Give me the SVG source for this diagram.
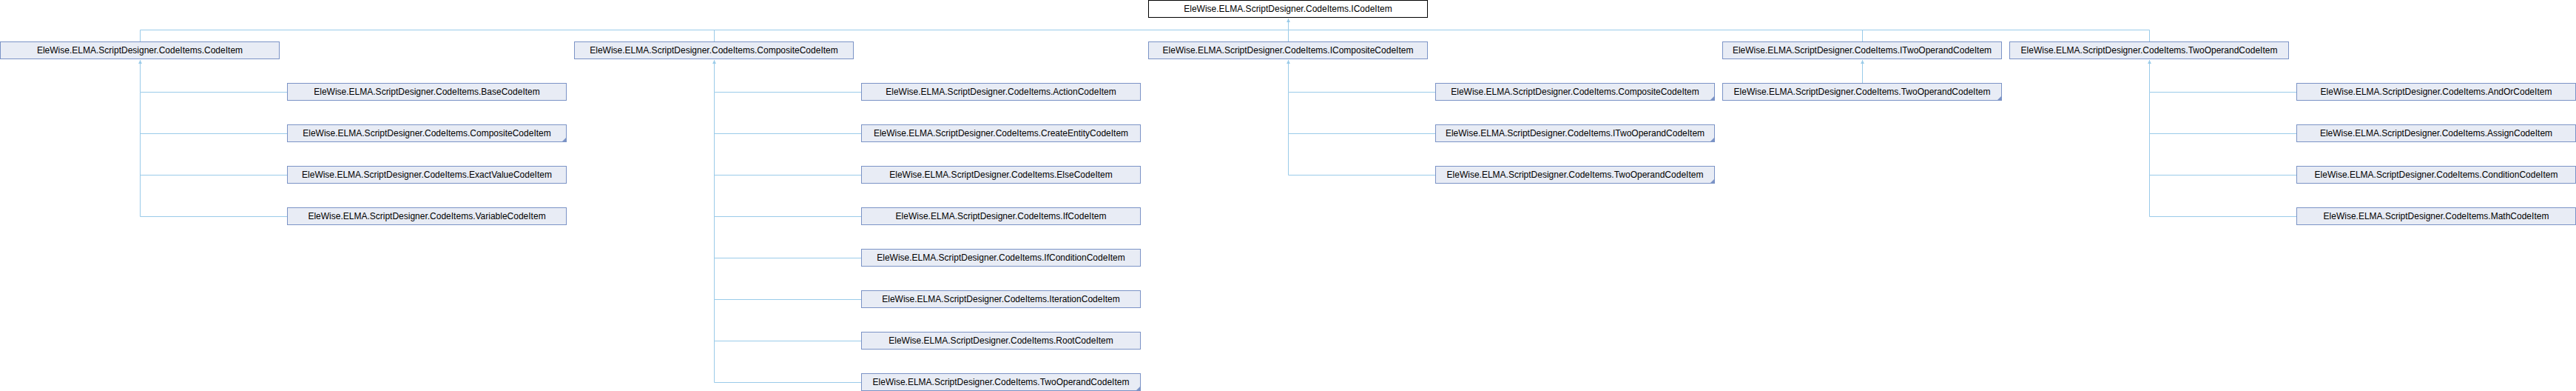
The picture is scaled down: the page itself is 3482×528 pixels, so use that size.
<svg xmlns="http://www.w3.org/2000/svg" width="3482" height="528" viewBox="0 0 3482 528">
<style>
.n rect{fill:#E8ECF5;stroke:#7B93C6;stroke-width:1}
.r rect{fill:#FFFFFF;stroke:#000000;stroke-width:1}
text{font-family:"Liberation Sans",Arial,sans-serif;font-size:12px;fill:#000;text-anchor:middle}
.e path{fill:none;stroke:#9ACBE9;stroke-width:1}
.c{fill:#7B93C6}
</style>
<defs>
<marker id="arr" markerUnits="userSpaceOnUse" markerWidth="6" markerHeight="6" viewBox="0 0 6 6" refX="5" refY="3" orient="auto">
<path d="M0,0.6 L5,3 L0,5.4 z" fill="#9ACBE9"/>
</marker>
</defs>
<rect width="3482" height="528" fill="#FFFFFF"/>
<g class="e" id="connectors">
<path d="M189.5,56.5 V40.5 H1741.5 V25" marker-end="url(#arr)"/>
<path d="M965.5,56.5 V40.5"/>
<path d="M1741.5,56.5 V40.5"/>
<path d="M2517.5,56.5 V40.5"/>
<path d="M2905.5,56.5 V40.5 H1741.5"/>
<path d="M388.5,124.5 H189.5 V81" marker-end="url(#arr)"/>
<path d="M388.5,180.5 H189.5"/>
<path d="M388.5,236.5 H189.5"/>
<path d="M388.5,292.5 H189.5 V124.5"/>
<path d="M1164.5,124.5 H965.5 V81" marker-end="url(#arr)"/>
<path d="M1164.5,180.5 H965.5"/>
<path d="M1164.5,236.5 H965.5"/>
<path d="M1164.5,292.5 H965.5"/>
<path d="M1164.5,348.5 H965.5"/>
<path d="M1164.5,404.5 H965.5"/>
<path d="M1164.5,460.5 H965.5"/>
<path d="M1164.5,516.5 H965.5 V124.5"/>
<path d="M1940.5,124.5 H1741.5 V81" marker-end="url(#arr)"/>
<path d="M1940.5,180.5 H1741.5"/>
<path d="M1940.5,236.5 H1741.5 V124.5"/>
<path d="M2517.5,112.5 V81" marker-end="url(#arr)"/>
<path d="M3104.5,124.5 H2905.5 V81" marker-end="url(#arr)"/>
<path d="M3104.5,180.5 H2905.5"/>
<path d="M3104.5,236.5 H2905.5"/>
<path d="M3104.5,292.5 H2905.5 V124.5"/>
</g>
<g id="ICodeItem" class="r"><rect x="1552.5" y="0.5" width="377" height="23"/><text x="1741" y="16">EleWise.ELMA.ScriptDesigner.CodeItems.ICodeItem</text></g>
<g id="CodeItem" class="n"><rect x="0.5" y="56.5" width="377" height="23"/><text x="189" y="72">EleWise.ELMA.ScriptDesigner.CodeItems.CodeItem</text></g>
<g id="CompositeCodeItem" class="n"><rect x="776.5" y="56.5" width="377" height="23"/><text x="965" y="72">EleWise.ELMA.ScriptDesigner.CodeItems.CompositeCodeItem</text></g>
<g id="ICompositeCodeItem" class="n"><rect x="1552.5" y="56.5" width="377" height="23"/><text x="1741" y="72">EleWise.ELMA.ScriptDesigner.CodeItems.ICompositeCodeItem</text></g>
<g id="ITwoOperandCodeItem" class="n"><rect x="2328.5" y="56.5" width="377" height="23"/><text x="2517" y="72">EleWise.ELMA.ScriptDesigner.CodeItems.ITwoOperandCodeItem</text></g>
<g id="TwoOperandCodeItem" class="n"><rect x="2716.5" y="56.5" width="377" height="23"/><text x="2905" y="72">EleWise.ELMA.ScriptDesigner.CodeItems.TwoOperandCodeItem</text></g>
<g id="BaseCodeItem" class="n"><rect x="388.5" y="112.5" width="377" height="23"/><text x="577" y="128">EleWise.ELMA.ScriptDesigner.CodeItems.BaseCodeItem</text></g>
<g id="CompositeCodeItem_2" class="n"><rect x="388.5" y="168.5" width="377" height="23"/><text x="577" y="184">EleWise.ELMA.ScriptDesigner.CodeItems.CompositeCodeItem</text><path class="c" d="M766,185 V192 H759 z"/></g>
<g id="ExactValueCodeItem" class="n"><rect x="388.5" y="224.5" width="377" height="23"/><text x="577" y="240">EleWise.ELMA.ScriptDesigner.CodeItems.ExactValueCodeItem</text></g>
<g id="VariableCodeItem" class="n"><rect x="388.5" y="280.5" width="377" height="23"/><text x="577" y="296">EleWise.ELMA.ScriptDesigner.CodeItems.VariableCodeItem</text></g>
<g id="ActionCodeItem" class="n"><rect x="1164.5" y="112.5" width="377" height="23"/><text x="1353" y="128">EleWise.ELMA.ScriptDesigner.CodeItems.ActionCodeItem</text></g>
<g id="CreateEntityCodeItem" class="n"><rect x="1164.5" y="168.5" width="377" height="23"/><text x="1353" y="184">EleWise.ELMA.ScriptDesigner.CodeItems.CreateEntityCodeItem</text></g>
<g id="ElseCodeItem" class="n"><rect x="1164.5" y="224.5" width="377" height="23"/><text x="1353" y="240">EleWise.ELMA.ScriptDesigner.CodeItems.ElseCodeItem</text></g>
<g id="IfCodeItem" class="n"><rect x="1164.5" y="280.5" width="377" height="23"/><text x="1353" y="296">EleWise.ELMA.ScriptDesigner.CodeItems.IfCodeItem</text></g>
<g id="IfConditionCodeItem" class="n"><rect x="1164.5" y="336.5" width="377" height="23"/><text x="1353" y="352">EleWise.ELMA.ScriptDesigner.CodeItems.IfConditionCodeItem</text></g>
<g id="IterationCodeItem" class="n"><rect x="1164.5" y="392.5" width="377" height="23"/><text x="1353" y="408">EleWise.ELMA.ScriptDesigner.CodeItems.IterationCodeItem</text></g>
<g id="RootCodeItem" class="n"><rect x="1164.5" y="448.5" width="377" height="23"/><text x="1353" y="464">EleWise.ELMA.ScriptDesigner.CodeItems.RootCodeItem</text></g>
<g id="TwoOperandCodeItem_2" class="n"><rect x="1164.5" y="504.5" width="377" height="23"/><text x="1353" y="520">EleWise.ELMA.ScriptDesigner.CodeItems.TwoOperandCodeItem</text><path class="c" d="M1542,521 V528 H1535 z"/></g>
<g id="CompositeCodeItem_3" class="n"><rect x="1940.5" y="112.5" width="377" height="23"/><text x="2129" y="128">EleWise.ELMA.ScriptDesigner.CodeItems.CompositeCodeItem</text><path class="c" d="M2318,129 V136 H2311 z"/></g>
<g id="ITwoOperandCodeItem_2" class="n"><rect x="1940.5" y="168.5" width="377" height="23"/><text x="2129" y="184">EleWise.ELMA.ScriptDesigner.CodeItems.ITwoOperandCodeItem</text><path class="c" d="M2318,185 V192 H2311 z"/></g>
<g id="TwoOperandCodeItem_3" class="n"><rect x="1940.5" y="224.5" width="377" height="23"/><text x="2129" y="240">EleWise.ELMA.ScriptDesigner.CodeItems.TwoOperandCodeItem</text><path class="c" d="M2318,241 V248 H2311 z"/></g>
<g id="TwoOperandCodeItem_4" class="n"><rect x="2328.5" y="112.5" width="377" height="23"/><text x="2517" y="128">EleWise.ELMA.ScriptDesigner.CodeItems.TwoOperandCodeItem</text><path class="c" d="M2706,129 V136 H2699 z"/></g>
<g id="AndOrCodeItem" class="n"><rect x="3104.5" y="112.5" width="377" height="23"/><text x="3293" y="128">EleWise.ELMA.ScriptDesigner.CodeItems.AndOrCodeItem</text></g>
<g id="AssignCodeItem" class="n"><rect x="3104.5" y="168.5" width="377" height="23"/><text x="3293" y="184">EleWise.ELMA.ScriptDesigner.CodeItems.AssignCodeItem</text></g>
<g id="ConditionCodeItem" class="n"><rect x="3104.5" y="224.5" width="377" height="23"/><text x="3293" y="240">EleWise.ELMA.ScriptDesigner.CodeItems.ConditionCodeItem</text></g>
<g id="MathCodeItem" class="n"><rect x="3104.5" y="280.5" width="377" height="23"/><text x="3293" y="296">EleWise.ELMA.ScriptDesigner.CodeItems.MathCodeItem</text></g>
</svg>
